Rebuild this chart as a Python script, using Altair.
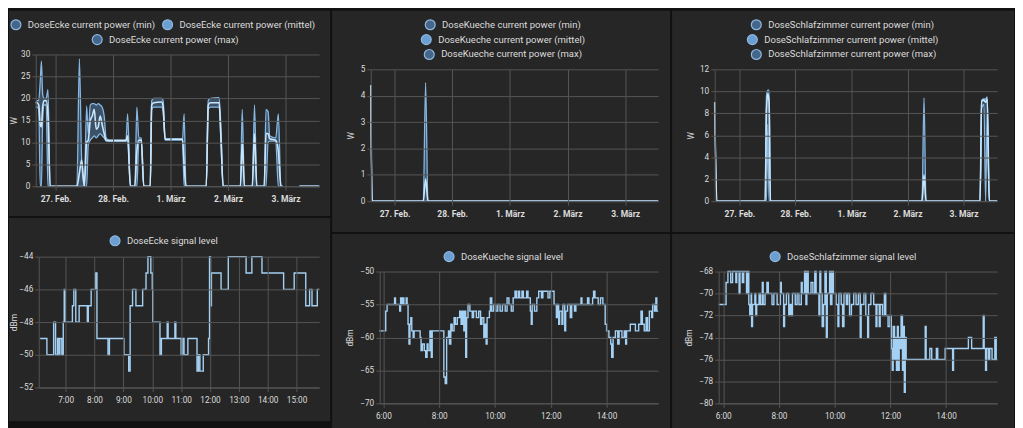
import altair as alt
import pandas as pd

CARD = "#262626"
GAP = "#111111"
GRID = "#555555"
TXT = "#dcdcdc"
FONT = "Roboto"
BAND = "#5a8fc4"
EDGE = "#86b7e3"
MEAN = "#c9e6fb"
SIG = "#a3d0f3"
LEG_DARK = "#44668b"
LEG_LIGHT = "#6b9ed1"
LEG_STROKE = "#8fb8e0"

# ---------------- DoseEcke current power ----------------
ecke_t = ["2021-02-26T15:43", "2021-02-26T16:20", "2021-02-26T16:58", "2021-02-26T17:36",
          "2021-02-26T18:05", "2021-02-26T18:36", "2021-02-26T19:14", "2021-02-26T20:04",
          "2021-02-26T20:49", "2021-02-26T21:43", "2021-02-27T08:54", "2021-02-27T09:56",
          "2021-02-27T10:53", "2021-02-27T12:00", "2021-02-27T12:57", "2021-02-27T13:39",
          "2021-02-27T14:29", "2021-02-27T15:18", "2021-02-27T16:08", "2021-02-27T16:58",
          "2021-02-27T17:47", "2021-02-27T18:37", "2021-02-27T19:27", "2021-02-27T20:17",
          "2021-02-27T21:06", "2021-02-27T22:21", "2021-02-28T05:23", "2021-02-28T06:05",
          "2021-02-28T07:14", "2021-02-28T09:06", "2021-02-28T09:56", "2021-02-28T10:45",
          "2021-02-28T11:47", "2021-02-28T12:49", "2021-02-28T15:31", "2021-02-28T16:08",
          "2021-02-28T16:58", "2021-02-28T20:17", "2021-02-28T20:54", "2021-02-28T21:44",
          "2021-03-01T05:00", "2021-03-01T05:40", "2021-03-01T06:25", "2021-03-01T14:54",
          "2021-03-01T15:44", "2021-03-01T16:35", "2021-03-01T20:17", "2021-03-01T21:07",
          "2021-03-01T21:56", "2021-03-02T05:10", "2021-03-02T05:55", "2021-03-02T06:50",
          "2021-03-02T10:08", "2021-03-02T11:03", "2021-03-02T12:00", "2021-03-02T15:06",
          "2021-03-02T15:51", "2021-03-02T16:43", "2021-03-02T17:24", "2021-03-02T19:54",
          "2021-03-02T21:00", "2021-03-02T22:04", "2021-03-02T22:45",
          "2021-03-03T05:48", "2021-03-03T14:04"]
ecke_min = [18, 18, 17.5, 0, 0, 15, 18.5, 18.5, 0, 0, 0, 0, 0, 0, 0, 9.5, 10.5, 11, 11.5, 11,
            11.5, 12, 11.5, 11, 10.3, 10.3, 10.3, 10.5, 0, 0, 0, 10, 10, 0, 0, 17.5, 18, 18, 17,
            10.5, 10.5, 0, 0, 0, 17.5, 18, 18, 9, 0, 0, 0, 0, 0, 0, 0, 0, 0, 10, 10.3, 10.3, 0,
            0, 0, 0, 0]
ecke_mean = [19, 19, 18.5, 14, 13.5, 18, 19.5, 19.5, 16, 0, 0, 3, 6, 0, 10, 10.5, 15, 16, 17.5,
             13, 13.5, 16, 14, 12, 10.5, 10.4, 10.4, 11.5, 0, 0, 8, 10.5, 10.5, 0, 0, 18.5, 19,
             19.2, 18, 10.7, 10.7, 5, 0, 0, 18.5, 19, 19, 10, 0, 0, 10, 0, 0, 12, 0, 0, 12, 12,
             10.8, 10.5, 8, 0, 0, 0, 0]
ecke_max = [19, 19.5, 19.5, 24, 28.5, 21, 20, 20, 22, 0, 0, 29, 6, 0, 18.3, 12, 18.5, 18.8, 18.8,
            18.5, 18.8, 18.5, 18, 16, 11, 10.5, 10.5, 16.5, 0, 0, 18, 11, 11, 0, 0, 19.5, 20, 20,
            19.5, 10.8, 10.8, 16.5, 0, 0, 19.5, 20, 20.2, 12, 0, 0, 17.5, 0, 0, 18.5, 0, 0, 17.5,
            17, 11.5, 11, 16.5, 0, 0, 0, 0]
ecke_seg = [0] * 63 + [1, 1]

# ---------------- DoseKueche current power ----------------
kueche_t = ["2021-02-26T14:06", "2021-02-26T14:39", "2021-02-27T11:58", "2021-02-27T12:56",
            "2021-02-27T13:54", "2021-03-03T13:45"]
kueche_min = [4.4, 0, 0, 0, 0, 0]
kueche_mean = [4.4, 0, 0, 0.85, 0, 0]
kueche_max = [4.4, 0, 0, 4.5, 0, 0]

# ---------------- DoseSchlafzimmer current power ----------------
schlaf_t = ["2021-02-26T13:24", "2021-02-26T14:20", "2021-02-27T11:01", "2021-02-27T11:35",
            "2021-02-27T12:09", "2021-02-27T12:42", "2021-02-27T13:16", "2021-03-02T06:12",
            "2021-03-02T07:04", "2021-03-02T07:55", "2021-03-03T07:04", "2021-03-03T07:46",
            "2021-03-03T08:45", "2021-03-03T09:27", "2021-03-03T10:09", "2021-03-03T11:01",
            "2021-03-03T14:24"]
schlaf_min = [9, 0, 0, 0, 7, 0, 0, 0, 0, 0, 0, 8.5, 8.8, 0, 8, 0, 0]
schlaf_mean = [9, 0, 0, 8.2, 9.8, 9, 0, 0, 2.4, 0, 0, 9.1, 9.2, 9, 9.3, 0, 0]
schlaf_max = [9, 0, 0, 9.6, 10.1, 10.1, 0, 0, 9.4, 0, 0, 9.2, 9.3, 9.3, 9.5, 0, 0]

# ---------------- signal levels (3. März) ----------------
ecke_sig_t = ["06:07", "06:21", "06:35", "06:39", "06:43", "06:46", "06:48", "06:52", "06:55",
              "06:57", "06:59", "07:14", "07:17", "07:21", "07:28", "07:45", "07:47", "07:53",
              "08:02", "08:05", "08:28", "08:31", "09:01", "09:11", "09:14", "09:19", "09:26",
              "09:40", "09:47", "09:51", "09:57", "10:00", "10:01", "10:16", "10:19", "10:31",
              "10:33", "10:47", "10:49", "11:00", "11:03", "11:06", "11:14", "11:33", "11:36",
              "11:39", "11:46", "11:57", "11:59", "12:01", "12:03", "12:23", "12:38", "13:15",
              "13:27", "13:48", "14:33", "14:55", "15:19", "15:27", "15:32", "15:43", "15:47"]
ecke_sig_v = [-49, -50, -48, -50, -49, -50, -49, -50, -48, -46, -48, -47, -46, -48, -47, -48, -47,
              -46, -45, -49, -50, -49, -50, -51, -47, -46, -47, -46, -45, -44, -45, -46, -48, -50,
              -49, -48, -49, -48, -49, -50, -49, -50, -49, -51, -50, -51, -50, -49, -44, -47, -45,
              -46, -44, -45, -44, -45, -46, -45, -47, -46, -47, -46, -46]

kueche_sig_t = ["05:51", "06:05", "06:08", "06:24", "06:26", "06:35", "06:37", "06:39", "06:42",
                "06:44", "06:49", "06:51", "06:53", "06:55", "06:57", "06:59", "07:01", "07:04",
                "07:06", "07:19", "07:21", "07:24", "07:28", "07:31", "07:34", "07:36", "07:40",
                "07:43", "07:45", "08:10", "08:13", "08:16", "08:20", "08:22", "08:25", "08:28",
                "08:32", "08:35", "08:39", "08:44", "08:47", "08:50", "08:53", "08:55", "08:57",
                "08:59", "09:02", "09:06", "09:11", "09:14", "09:20", "09:25", "09:29", "09:32",
                "09:36", "09:38", "09:41", "09:43", "09:48", "09:50", "09:53", "09:57", "10:02",
                "10:06", "10:11", "10:16", "10:22", "10:26", "10:30", "10:35", "10:39", "10:43",
                "10:46", "10:50", "10:53", "10:58", "11:01", "11:08", "11:11", "11:16", "11:18",
                "11:20", "11:25", "11:30", "11:34", "11:40", "11:43", "11:54", "11:58", "12:07",
                "12:12", "12:14", "12:17", "12:19", "12:24", "12:26", "12:30", "12:32", "12:36",
                "12:42", "12:45", "12:51", "12:54", "13:05", "13:07", "13:19", "13:22", "13:30",
                "13:32", "13:35", "13:42", "13:47", "13:52", "13:57", "14:00", "14:05", "14:09",
                "14:11", "14:14", "14:19", "14:24", "14:27", "14:33", "14:38", "14:41", "14:43",
                "14:51", "15:02", "15:09", "15:14", "15:17", "15:21", "15:25", "15:28", "15:32",
                "15:37", "15:39", "15:43", "15:46", "15:48", "15:51"]
kueche_sig_v = [-59, -56, -55, -54, -55, -56, -54, -55, -54, -55, -54, -55, -58, -61, -58, -57,
                -59, -60, -59, -60, -62, -61, -62, -63, -61, -62, -59, -63, -59, -66, -67, -60,
                -59, -61, -58, -59, -57, -58, -57, -56, -58, -56, -59, -56, -63, -57, -55, -56,
                -57, -56, -57, -56, -58, -57, -60, -58, -61, -57, -56, -54, -56, -55, -56, -55,
                -56, -55, -56, -54, -55, -56, -54, -53, -54, -53, -54, -53, -54, -53, -54, -56,
                -58, -55, -56, -54, -53, -54, -53, -54, -53, -55, -57, -55, -58, -56, -58, -55,
                -59, -56, -55, -57, -55, -56, -55, -54, -55, -54, -55, -54, -53, -54, -55, -54,
                -55, -58, -59, -60, -61, -63, -60, -59, -61, -59, -60, -59, -61, -59, -58, -59,
                -58, -56, -58, -59, -57, -59, -56, -57, -55, -56, -54, -56, -56]

schlaf_sig_t = ["05:50", "06:06", "06:10", "06:16", "06:20", "06:27", "06:29", "06:34", "06:36",
                "06:41", "06:44", "06:50", "06:52", "06:55", "06:57", "07:00", "07:01", "07:03",
                "07:08", "07:10", "07:12", "07:17", "07:20", "07:24", "07:26", "07:30", "07:34",
                "07:37", "07:45", "07:49", "07:56", "08:03", "08:05", "08:10", "08:12", "08:16",
                "08:21", "08:23", "08:26", "08:29", "08:35", "08:39", "08:43", "08:48", "08:50",
                "08:55", "08:58", "09:00", "09:03", "09:09", "09:13", "09:17", "09:20", "09:26",
                "09:28", "09:30", "09:33", "09:36", "09:39", "09:42", "09:44", "09:49", "09:51",
                "09:54", "09:57", "10:03", "10:07", "10:09", "10:14", "10:17", "10:20", "10:25",
                "10:28", "10:32", "10:36", "10:41", "10:46", "10:51", "10:55", "10:57", "11:03",
                "11:07", "11:11", "11:13", "11:18", "11:24", "11:29", "11:31", "11:36", "11:38",
                "11:43", "11:47", "11:50", "11:55", "11:59", "12:02", "12:04", "12:06", "12:09",
                "12:11", "12:13", "12:15", "12:17", "12:19", "12:21", "12:23", "12:26", "12:28",
                "12:30", "12:32", "12:34", "13:15", "13:17", "13:25", "13:29", "13:39", "13:42",
                "13:58", "14:14", "14:16", "14:48", "14:55", "15:20", "15:22", "15:25", "15:27",
                "15:31", "15:34", "15:39", "15:45", "15:48", "15:50"]
schlaf_sig_v = [-71, -69, -68, -69, -68, -69, -68, -70, -68, -69, -68, -70, -68, -71, -72, -70,
                -73, -71, -70, -72, -71, -70, -71, -69, -71, -70, -69, -70, -71, -70, -71, -69,
                -70, -73, -71, -70, -72, -71, -72, -70, -71, -70, -71, -69, -70, -68, -71, -68,
                -70, -69, -70, -68, -70, -72, -68, -70, -73, -71, -68, -74, -70, -68, -71, -68,
                -70, -71, -73, -70, -71, -73, -70, -71, -70, -72, -71, -70, -71, -70, -74, -71,
                -70, -72, -74, -71, -70, -71, -73, -71, -73, -71, -72, -70, -72, -73, -72, -75,
                -77, -73, -76, -74, -77, -73, -77, -74, -75, -72, -77, -73, -79, -74, -76, -73,
                -76, -75, -76, -75, -76, -75, -77, -75, -74, -75, -72, -75, -77, -75, -76, -75,
                -76, -74, -76, -76]

DAY_TICKS = [alt.DateTime(year=2021, month=m, date=d) for m, d in
             [(2, 27), (2, 28), (3, 1), (3, 2), (3, 3)]]

AXIS_STYLE = dict(gridColor=GRID, gridWidth=1, domainColor=GRID, tickColor=GRID, tickSize=4,
                  labelColor=TXT, labelFont=FONT, labelFlush=False,
                  titleColor=TXT, titleFont=FONT, titleFontSize=8.5, titleFontWeight="normal",
                  zindex=1)


def dt(s):
    d, t = s.split("T")
    y, mo, da = d.split("-")
    h, mi = t.split(":")
    return alt.DateTime(year=int(y), month=int(mo), date=int(da), hours=int(h), minutes=int(mi))


def bg(L, T, W, H, R, B):
    one = pd.DataFrame({"a": [0]})
    gap = alt.Chart(one).mark_rect(color=GAP).encode(
        x=alt.value(-L), x2=alt.value(W + R + 1), y=alt.value(-T), y2=alt.value(H + B + 2))
    card = alt.Chart(one).mark_rect(color=CARD).encode(
        x=alt.value(-L), x2=alt.value(W + R), y=alt.value(-T), y2=alt.value(H + B))
    return [gap, card]


def spacer():
    return alt.Chart(pd.DataFrame({"a": [0]})).mark_rect(color=GAP).encode(
        x=alt.value(0), x2=alt.value(1), y=alt.value(0), y2=alt.value(1)
    ).properties(width=1, height=1)


def legend_layer(label, fill, cx, cy):
    return alt.Chart(pd.DataFrame({"s": [label]})).mark_circle(opacity=0).encode(
        x=alt.value(0), y=alt.value(0),
        color=alt.Color("s:N", scale=alt.Scale(domain=[label], range=[fill]),
                        legend=alt.Legend(orient="none", legendX=cx - 5, legendY=cy - 6,
                                          title=None, symbolType="circle", symbolSize=100,
                                          symbolStrokeColor=LEG_STROKE, symbolStrokeWidth=1.2,
                                          symbolOpacity=1, labelColor=TXT, labelFont=FONT,
                                          labelFontSize=9.6, labelOffset=6, labelLimit=400,
                                          padding=0)))


def power_card(name, times, mn, me, mx, seg, domain, yvals, geom, legpos, title_x):
    W, H, L, T, R, B = geom
    df = pd.DataFrame({"t": times, "mn": mn, "me": me, "mx": mx, "seg": seg})
    xsc = alt.Scale(domain=[dt(domain[0]), dt(domain[1])], nice=False)
    ysc = alt.Scale(domain=[yvals[0], yvals[-1]], nice=False)
    xax = alt.Axis(values=DAY_TICKS, title=None, labelFontWeight="bold", labelPadding=4,
                   labelFontSize=8.6,
                   labelExpr="timeFormat(datum.value, '%-d') + '. ' + "
                             "(month(datum.value) == 1 ? 'Feb.' : 'März')", **AXIS_STYLE)
    yax = alt.Axis(values=yvals, title="W", titleX=title_x, titleBaseline="middle",
                   labelPadding=2, labelFontSize=8.3, **AXIS_STYLE)
    x = alt.X("t:T", scale=xsc, axis=xax)
    base = alt.Chart(df)
    band = base.mark_area(interpolate="monotone", color=BAND, opacity=0.42).encode(
        x=x, y=alt.Y("mn:Q", scale=ysc, axis=yax), y2="mx:Q", detail="seg:N")
    lines = [base.mark_line(interpolate="monotone", color=c, strokeWidth=w).encode(
        x=x, y=alt.Y(f + ":Q", scale=ysc, axis=yax), detail="seg:N")
        for f, c, w in [("mn", EDGE, 1.3), ("mx", EDGE, 1.3), ("me", MEAN, 1.6)]]
    labels = [f"{name} current power (min)", f"{name} current power (mittel)",
              f"{name} current power (max)"]
    fills = [LEG_DARK, LEG_LIGHT, LEG_DARK]
    legs = [legend_layer(lb, fc, p[0], p[1]) for lb, fc, p in zip(labels, fills, legpos)]
    return alt.layer(*bg(L, T, W, H, R, B), band, *lines, *legs).resolve_scale(
        color="independent").properties(width=W, height=H)


def signal_card(name, times, vals, domain, yvals, geom, legpos, title_x, hour_step):
    W, H, L, T, R, B = geom
    df = pd.DataFrame({"t": ["2021-03-03T" + s for s in times], "v": vals})
    xsc = alt.Scale(domain=[dt("2021-03-03T" + domain[0]), dt("2021-03-03T" + domain[1])],
                    nice=False)
    ysc = alt.Scale(domain=[yvals[0], yvals[-1]], nice=False)
    first = 6 if hour_step == 2 else 7
    hours = [alt.DateTime(year=2021, month=3, date=3, hours=h)
             for h in range(first, 16, hour_step)]
    xax = alt.Axis(values=hours, title=None, format="%-H:%M", labelPadding=4,
                   labelFontSize=8.3, **AXIS_STYLE)
    yax = alt.Axis(values=yvals, title="dBm", titleX=title_x, titleBaseline="middle",
                   labelPadding=2, labelFontSize=8.3, **AXIS_STYLE)
    line = alt.Chart(df).mark_line(interpolate="step-after", color=SIG, strokeWidth=1.4).encode(
        x=alt.X("t:T", scale=xsc, axis=xax), y=alt.Y("v:Q", scale=ysc, axis=yax))
    leg = legend_layer(f"{name} signal level", LEG_LIGHT, legpos[0], legpos[1])
    return alt.layer(*bg(L, T, W, H, R, B), line, leg).resolve_scale(
        color="independent").properties(width=W, height=H)


# geometry: (plot width, plot height, left, top, right, bottom margins inside the card)
tl = power_card("DoseEcke", ecke_t, ecke_min, ecke_mean, ecke_max, ecke_seg,
                ("2021-02-26T15:43", "2021-03-03T14:04"), [0, 5, 10, 15, 20, 25, 30],
                (286, 133, 27, 44, 11, 30), [(-21, -30), (132, -30), (61, -15)], -22)
tm = power_card("DoseKueche", kueche_t, kueche_min, kueche_mean, kueche_max, [0] * 6,
                ("2021-02-26T14:06", "2021-03-03T13:45"), [0, 1, 2, 3, 4, 5],
                (290, 133, 39, 59, 12, 31), [(59, -45), (55, -30), (58, -15)], -20)
tr = power_card("DoseSchlafzimmer", schlaf_t, schlaf_min, schlaf_mean, schlaf_max, [0] * 17,
                ("2021-02-26T13:24", "2021-03-03T14:24"), [0, 2, 4, 6, 8, 10, 12],
                (285, 133, 43, 59, 17, 31), [(41, -45), (37, -30), (41, -15)], -24)

bl = signal_card("DoseEcke", ecke_sig_t, ecke_sig_v, ("06:04", "15:47"),
                 [-52, -50, -48, -46, -44], (283, 132, 30, 39, 11, 34), (76, -16), -25, 1)
bm = signal_card("DoseKueche", kueche_sig_t, kueche_sig_v, ("05:52", "15:51"),
                 [-70, -65, -60, -55, -50], (281, 133, 48, 38, 12, 25), (69, -15), -30, 2)
br = signal_card("DoseSchlafzimmer", schlaf_sig_t, schlaf_sig_v, ("05:50", "15:50"),
                 [-80, -78, -76, -74, -72, -70, -68], (281, 133, 47, 38, 17, 25), (56, -15),
                 -30, 2)


def column(top, bottom):
    return alt.concat(spacer(), spacer(), spacer(), top, spacer(), bottom,
                      columns=2, spacing=0, align="none").resolve_scale(color="independent")


chart = alt.concat(column(tl, bl), column(tm, bm), column(tr, br),
                   columns=3, spacing=0, align="none").resolve_scale(
    color="independent"
).configure(background=GAP, padding=0).configure_view(stroke=None)

chart.save("out.html", embed_options={"renderer": "svg", "actions": False})
